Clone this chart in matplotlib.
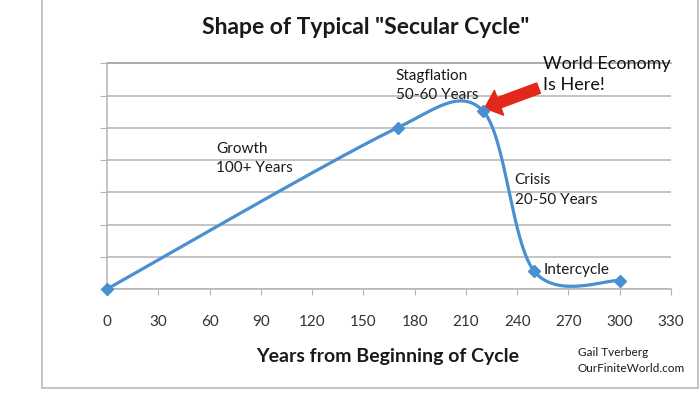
import numpy as np
import matplotlib.pyplot as plt
from matplotlib.lines import Line2D

# 資料
years = [0, 170, 220, 250, 300]
level = [0.0, 5.0, 5.52, 0.55, 0.26]
xticks = [0, 30, 60, 90, 120, 150, 180, 210, 240, 270, 300, 330]

blue = "#4a8fd0"
grid = "#b4b4b4"
plt.rcParams["font.family"] = ["Lato", "DejaVu Sans"]


def smooth(ax, xs, ys, n=80):
    # 類似 Excel 的平滑線：在螢幕座標做 Catmull-Rom -> Bezier，控制點長度限制在線段一半
    p = ax.transData.transform(np.column_stack([xs, ys]).astype(float))
    out = []
    for i in range(len(p) - 1):
        p0 = p[i - 1] if i > 0 else p[i]
        p1, p2 = p[i], p[i + 1]
        p3 = p[i + 2] if i + 2 < len(p) else p[i + 1]
        seg_len = np.hypot(*(p2 - p1))
        v1 = (p2 - p0) / 6
        v2 = (p3 - p1) / 6
        for v in (v1, v2):
            L = np.hypot(*v)
            if L > seg_len * 0.45:
                v *= (seg_len * 0.45) / L
        c1 = p1 + v1
        c2 = p2 - v2
        t = np.linspace(0, 1, n)[:, None]
        seg = ((1 - t) ** 3) * p1 + 3 * ((1 - t) ** 2) * t * c1 + 3 * (1 - t) * t ** 2 * c2 + t ** 3 * p2
        out.append(seg)
    out = ax.transData.inverted().transform(np.vstack(out))
    return out[:, 0], out[:, 1]


fig = plt.figure(figsize=(7, 3.94), dpi=100)
ytop = 7.15
h_px = ytop * 32.25
ax = fig.add_axes([107 / 700, 105 / 394, 564 / 700, h_px / 394])
ax.set_xlim(0, 330)
ax.set_ylim(0, ytop)

sx, sy = smooth(ax, years, level)
ax.plot(sx, sy, color=blue, lw=2.3, solid_capstyle="round", clip_on=False, zorder=3)
ax.plot(years, level, "D", color=blue, ms=6.5, clip_on=False, zorder=4)

ax.set_xticks(xticks)
ax.set_yticks(range(0, 8))
ax.set_yticklabels([])
ax.yaxis.grid(True, color=grid, lw=1.1)
ax.set_axisbelow(True)
for s in ["top", "right"]:
    ax.spines[s].set_visible(False)
for s in ["left", "bottom"]:
    ax.spines[s].set_color(grid)
    ax.spines[s].set_linewidth(1.1)
ax.spines["left"].set_bounds(0, 7)
ax.tick_params(axis="x", colors=grid, labelcolor="#333333", labelsize=11, length=4, pad=15)
ax.tick_params(axis="y", colors=grid, length=5)

# 最上面的格線 (用 blended transform 畫在 y=7)
top_line = Line2D([0, 1], [7, 7], transform=ax.get_yaxis_transform(), color="#a8a8a8", lw=1.2,
                  zorder=0.6, clip_on=False)
ax.add_artist(top_line)

fig.text(366 / 700, 1 - 27 / 394, 'Shape of Typical "Secular Cycle"', fontsize=16.5, fontweight="bold",
         color="#1a1a1a", ha="center", va="center")
ax.set_xlabel("Years from Beginning of Cycle", fontsize=14, fontweight="bold", color="#1a1a1a")
ax.xaxis.set_label_coords(0.498, -58.8 / h_px)

txt = dict(fontsize=11, color="#1a1a1a", va="center", ha="left")
ax.text(64, 4.34, "Growth", **txt)
ax.text(64, 3.75, "100+ Years", **txt)
ax.text(169, 6.6, "Stagflation", **txt)
ax.text(169, 6.02, "50-60 Years", **txt)
ax.text(238.5, 3.38, "Crisis", **txt)
ax.text(238.5, 2.76, "20-50 Years", **txt)
ax.text(255.5, 0.59, "Intercycle", **txt)
ax.text(255, 6.98, "World Economy", fontsize=13, color="#111111", va="center", ha="left", clip_on=False)
ax.text(255, 6.33, "Is Here!", fontsize=13, color="#111111", va="center", ha="left", clip_on=False)

# 紅色箭頭
ax.annotate("", xy=(221, 5.61), xytext=(252.5, 6.23),
            arrowprops=dict(arrowstyle="simple,head_length=1.1,head_width=1.9,tail_width=0.78",
                            color="#e2281b", mutation_scale=10, shrinkA=0, shrinkB=0))

fig.text(578 / 700, 1 - 352 / 394, "Gail Tverberg", fontsize=8.5, color="#1a1a1a", va="center")
fig.text(578 / 700, 1 - 368 / 394, "OurFiniteWorld.com", fontsize=8.5, color="#1a1a1a", va="center")

# 外框
fig.add_artist(Line2D([42 / 700, 42 / 700], [1, 1 - 388 / 394], color="#c0c0c0", lw=1.3))
fig.add_artist(Line2D([42 / 700, 698 / 700], [1 - 388 / 394] * 2, color="#c0c0c0", lw=1.3))
fig.add_artist(Line2D([698 / 700, 698 / 700], [1, 1 - 388 / 394], color="#c0c0c0", lw=1.3))

fig.savefig("out.png", dpi=100, facecolor="white")
